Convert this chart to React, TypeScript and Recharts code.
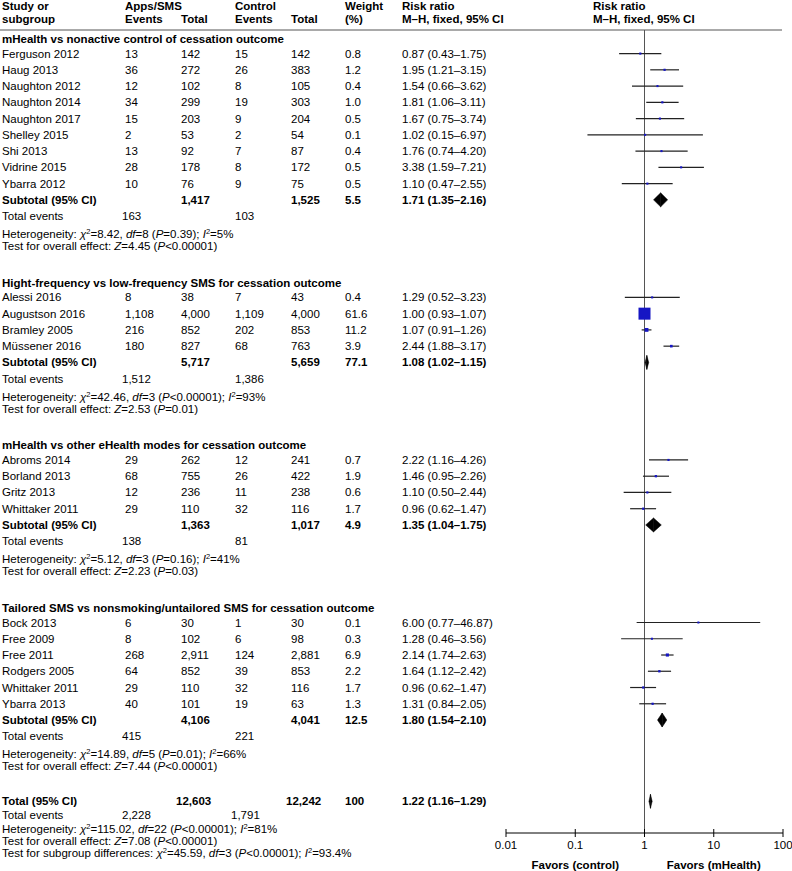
import React from "react";
import { ScatterChart, Scatter, XAxis, YAxis, ReferenceLine } from "recharts";

// ---- data ----
const groupTitles = [
  "mHealth vs nonactive control of cessation outcome",
  "Hight-frequency vs low-frequency SMS for cessation outcome",
  "mHealth vs other eHealth modes for cessation outcome",
  "Tailored SMS vs nonsmoking/untailored SMS for cessation outcome",
];
const groupSizes = [9, 4, 4, 6];

const studies = [
  "Ferguson 2012", "Haug 2013", "Naughton 2012", "Naughton 2014", "Naughton 2017",
  "Shelley 2015", "Shi 2013", "Vidrine 2015", "Ybarra 2012",
  "Alessi 2016", "Augustson 2016", "Bramley 2005", "Müssener 2016",
  "Abroms 2014", "Borland 2013", "Gritz 2013", "Whittaker 2011",
  "Bock 2013", "Free 2009", "Free 2011", "Rodgers 2005", "Whittaker 2011", "Ybarra 2013",
];
const expEvents = [13, 36, 12, 34, 15, 2, 13, 28, 10, 8, 1108, 216, 180, 29, 68, 12, 29, 6, 8, 268, 64, 29, 40];
const expTotal = [142, 272, 102, 299, 203, 53, 92, 178, 76, 38, 4000, 852, 827, 262, 755, 236, 110, 30, 102, 2911, 852, 110, 101];
const ctlEvents = [15, 26, 8, 19, 9, 2, 7, 8, 9, 7, 1109, 202, 68, 12, 26, 11, 32, 1, 6, 124, 39, 32, 19];
const ctlTotal = [142, 383, 105, 303, 204, 54, 87, 172, 75, 43, 4000, 853, 763, 241, 422, 238, 116, 30, 98, 2881, 853, 116, 63];
const weights = [0.8, 1.2, 0.4, 1.0, 0.5, 0.1, 0.4, 0.5, 0.5, 0.4, 61.6, 11.2, 3.9, 0.7, 1.9, 0.6, 1.7, 0.1, 0.3, 6.9, 2.2, 1.7, 1.3];
const rr = [0.87, 1.95, 1.54, 1.81, 1.67, 1.02, 1.76, 3.38, 1.1, 1.29, 1.0, 1.07, 2.44, 2.22, 1.46, 1.1, 0.96, 6.0, 1.28, 2.14, 1.64, 0.96, 1.31];
const rrLow = [0.43, 1.21, 0.66, 1.06, 0.75, 0.15, 0.74, 1.59, 0.47, 0.52, 0.93, 0.91, 1.88, 1.16, 0.95, 0.5, 0.62, 0.77, 0.46, 1.74, 1.12, 0.62, 0.84];
const rrHigh = [1.75, 3.15, 3.62, 3.11, 3.74, 6.97, 4.2, 7.21, 2.55, 3.23, 1.07, 1.26, 3.17, 4.26, 2.26, 2.44, 1.47, 46.87, 3.56, 2.63, 2.42, 1.47, 2.05];

const subExpTotal = [1417, 5717, 1363, 4106];
const subCtlTotal = [1525, 5659, 1017, 4041];
const subWeight = [5.5, 77.1, 4.9, 12.5];
const subRR = [1.71, 1.08, 1.35, 1.8];
const subLow = [1.35, 1.02, 1.04, 1.54];
const subHigh = [2.16, 1.15, 1.75, 2.1];
const subExpEvents = [163, 1512, 138, 415];
const subCtlEvents = [103, 1386, 81, 221];
const hetChi2 = ["8.42", "42.46", "5.12", "14.89"];
const hetDf = ["8", "3", "3", "5"];
const hetP = ["=0.39", "<0.00001", "=0.16", "=0.01"];
const hetI2 = ["5", "93", "41", "66"];
const effectZ = ["4.45", "2.53", "2.23", "7.44"];
const effectP = ["<0.00001", "=0.01", "=0.03", "<0.00001"];

const totalCounts = [12603, 12242];
const totalEvents = [2228, 1791];
const totalWeight = "100";
const totalRR = [1.22, 1.16, 1.29];
const totalHet = ["115.02", "22", "<0.00001", "81"];
const totalEffect = ["7.08", "<0.00001"];
const subgroupDiff = ["45.59", "3", "<0.00001", "93.4"];

const xTicks = [0.01, 0.1, 1, 10, 100];
const favorLabels = new Map<number, string>([
  [0.1, "Favors (control)"],
  [10, "Favors (mHealth)"],
]);

// ---- layout ----
const FONT = '"Liberation Sans", Arial, Helvetica, sans-serif';
const FS = 11.5;
const COL = { study: 2, ev: 125, tot: 181, cev: 235, ctot: 291, wt: 345, rr: 402, plot: 593, evSum: 122 };
const DIAMOND_H = 7;
const SUP_SHIFT = 4;
const maxWeight = Math.max(...weights);

type Cell = { x: number; node: React.ReactNode };
type Row = { k: number; bold?: boolean; rule?: boolean; cells: Cell[] };

const fmtInt = (n: number) => n.toLocaleString("en-US");
const fmtRR = (r: number, l: number, h: number) => `${r.toFixed(2)} (${l.toFixed(2)}–${h.toFixed(2)})`;

const It = ({ children }: { children: React.ReactNode }) => <tspan fontStyle="italic">{children}</tspan>;

// "x²=rest": the text after the superscript goes back down to the baseline
function squared(base: string, rest: string) {
  return (
    <>
      <It>{base}</It>
      <tspan dy={-SUP_SHIFT} fontSize={7.5}>2</tspan>
      <tspan dy={SUP_SHIFT}>{rest}</tspan>
    </>
  );
}

function hetText(label: string, chi2: string, df: string, p: string, i2: string) {
  return (
    <>
      {label}
      {squared("χ", `=${chi2}, `)}
      <It>df</It>
      {`=${df} (`}
      <It>P</It>
      {`${p}); `}
      {squared("I", `=${i2}%`)}
    </>
  );
}

function effectText(z: string, p: string) {
  return (
    <>
      {"Test for overall effect: "}
      <It>Z</It>
      {`=${z} (`}
      <It>P</It>
      {`${p})`}
    </>
  );
}

// ---- build rows ----
const rows: Row[] = [];
const points: { x: number; y: number; w: number }[] = [];
const cis: { lo: number; hi: number; k: number }[] = [];
const diamonds: { rr: number; lo: number; hi: number; k: number }[] = [];

rows.push({
  k: -2.92,
  bold: true,
  cells: [
    { x: COL.study, node: "Study or" },
    { x: COL.ev, node: "Apps/SMS" },
    { x: COL.cev, node: "Control" },
    { x: COL.wt, node: "Weight" },
    { x: COL.rr, node: "Risk ratio" },
    { x: COL.plot, node: "Risk ratio" },
  ],
});
rows.push({
  k: -2.12,
  bold: true,
  cells: [
    { x: COL.study, node: "subgroup" },
    { x: COL.ev, node: "Events" },
    { x: COL.tot, node: "Total" },
    { x: COL.cev, node: "Events" },
    { x: COL.ctot, node: "Total" },
    { x: COL.wt, node: "(%)" },
    { x: COL.rr, node: "M–H, fixed, 95% CI" },
    { x: COL.plot, node: "M–H, fixed, 95% CI" },
  ],
});
rows.push({ k: -1.45, rule: true, cells: [] });

let k0 = 0;
let idx = 0;
let lastSub = 0;
groupSizes.forEach((n, g) => {
  rows.push({ k: k0 - 0.9, bold: true, cells: [{ x: COL.study, node: groupTitles[g] }] });
  for (let j = 0; j < n; j++) {
    const i = idx + j;
    const k = k0 + j;
    rows.push({
      k,
      cells: [
        { x: COL.study, node: studies[i] },
        { x: COL.ev, node: fmtInt(expEvents[i]) },
        { x: COL.tot, node: fmtInt(expTotal[i]) },
        { x: COL.cev, node: fmtInt(ctlEvents[i]) },
        { x: COL.ctot, node: fmtInt(ctlTotal[i]) },
        { x: COL.wt, node: weights[i].toFixed(1) },
        { x: COL.rr, node: fmtRR(rr[i], rrLow[i], rrHigh[i]) },
      ],
    });
    points.push({ x: rr[i], y: k, w: weights[i] });
    cis.push({ lo: rrLow[i], hi: rrHigh[i], k });
  }
  const ks = k0 + n;
  rows.push({
    k: ks,
    bold: true,
    cells: [
      { x: COL.study, node: "Subtotal (95% CI)" },
      { x: COL.tot, node: fmtInt(subExpTotal[g]) },
      { x: COL.ctot, node: fmtInt(subCtlTotal[g]) },
      { x: COL.wt, node: subWeight[g].toFixed(1) },
      { x: COL.rr, node: fmtRR(subRR[g], subLow[g], subHigh[g]) },
    ],
  });
  diamonds.push({ rr: subRR[g], lo: subLow[g], hi: subHigh[g], k: ks });
  rows.push({
    k: ks + 1,
    cells: [
      { x: COL.study, node: "Total events" },
      { x: COL.evSum, node: fmtInt(subExpEvents[g]) },
      { x: COL.cev, node: fmtInt(subCtlEvents[g]) },
    ],
  });
  rows.push({ k: ks + 2.1, cells: [{ x: COL.study, node: hetText("Heterogeneity: ", hetChi2[g], hetDf[g], hetP[g], hetI2[g]) }] });
  rows.push({ k: ks + 2.85, cells: [{ x: COL.study, node: effectText(effectZ[g], effectP[g]) }] });
  lastSub = ks;
  idx += n;
  k0 = ks + 6;
});

const kTotal = lastSub + 5;
rows.push({
  k: kTotal,
  bold: true,
  cells: [
    { x: COL.study, node: "Total (95% CI)" },
    { x: 176, node: fmtInt(totalCounts[0]) },
    { x: 286, node: fmtInt(totalCounts[1]) },
    { x: COL.wt, node: totalWeight },
    { x: COL.rr, node: fmtRR(totalRR[0], totalRR[1], totalRR[2]) },
  ],
});
diamonds.push({ rr: totalRR[0], lo: totalRR[1], hi: totalRR[2], k: kTotal });
rows.push({
  k: kTotal + 0.85,
  cells: [
    { x: COL.study, node: "Total events" },
    { x: COL.evSum, node: fmtInt(totalEvents[0]) },
    { x: 231, node: fmtInt(totalEvents[1]) },
  ],
});
rows.push({ k: kTotal + 1.7, cells: [{ x: COL.study, node: hetText("Heterogeneity: ", totalHet[0], totalHet[1], totalHet[2], totalHet[3]) }] });
rows.push({ k: kTotal + 2.45, cells: [{ x: COL.study, node: effectText(totalEffect[0], totalEffect[1]) }] });
rows.push({
  k: kTotal + 3.15,
  cells: [{ x: COL.study, node: hetText("Test for subgroup differences: ", subgroupDiff[0], subgroupDiff[1], subgroupDiff[2], subgroupDiff[3]) }],
});

const rowByK = new Map<number, Row>(rows.map((r) => [r.k, r]));
const rowTicks = rows.map((r) => r.k);

// ---- renderers ----
function RowTick(props: any) {
  const { y, payload } = props;
  const row = rowByK.get(payload.value);
  if (!row) return null;
  if (row.rule) {
    return <line x1={0} x2={782} y1={y} y2={y} stroke="#555" strokeWidth={1} />;
  }
  return (
    <g>
      {row.cells.map((c, i) => (
        <text
          key={i}
          x={c.x}
          y={y}
          dy="0.35em"
          fontFamily={FONT}
          fontSize={FS}
          fontWeight={row.bold ? "bold" : "normal"}
          fill="#000"
        >
          {c.node}
        </text>
      ))}
    </g>
  );
}

function XTick(props: any) {
  const { x, y, payload } = props;
  const v = payload.value as number;
  const label = favorLabels.get(v);
  return (
    <g>
      <line x1={x} x2={x} y1={y - 4} y2={y + 4} stroke="#000" />
      <text x={x} y={y + 16} textAnchor="middle" fontFamily={FONT} fontSize={FS} fill="#000">
        {String(v)}
      </text>
      {label && (
        <text x={x} y={y + 36} textAnchor="middle" fontFamily={FONT} fontSize={FS} fontWeight="bold" fill="#000">
          {label}
        </text>
      )}
    </g>
  );
}

function Square(props: any) {
  const { cx, cy, payload } = props;
  const s = 2 + (10 * payload.w) / maxWeight;
  return <rect x={cx - s / 2} y={cy - s / 2} width={s} height={s} fill="#1616c4" />;
}

const leftHalf = (p: any) => (
  <polygon
    points={`${p.x1},${p.y1} ${p.x2},${p.y2 - DIAMOND_H} ${p.x2},${p.y2 + DIAMOND_H}`}
    fill="#000"
    stroke="#000"
    strokeWidth={0.5}
  />
);
const rightHalf = (p: any) => (
  <polygon
    points={`${p.x1},${p.y1 - DIAMOND_H} ${p.x2},${p.y2} ${p.x1},${p.y1 + DIAMOND_H}`}
    fill="#000"
    stroke="#000"
    strokeWidth={0.5}
  />
);

export default function App() {
  return (
    <div style={{ position: "absolute", left: 0, top: 0, width: 792, height: 871, background: "#fff" }}>
      <ScatterChart width={792} height={871} margin={{ top: 30, right: 9, bottom: 0, left: 505 }}>
        <XAxis
          type="number"
          dataKey="x"
          scale="log"
          domain={[0.01, 100]}
          allowDataOverflow
          ticks={xTicks}
          interval={0}
          height={38}
          axisLine={{ stroke: "#000" }}
          tickLine={false}
          tickSize={0}
          tickMargin={0}
          tick={<XTick />}
        />
        <YAxis
          type="number"
          dataKey="y"
          reversed
          domain={[-1.45, 47.95]}
          allowDataOverflow
          ticks={rowTicks}
          interval={0}
          width={1}
          axisLine={false}
          tickLine={false}
          tickSize={0}
          tickMargin={0}
          tick={<RowTick />}
        />
        <ReferenceLine x={1} stroke="#555" />
        {cis.map((c, i) => (
          <ReferenceLine
            key={`ci${i}`}
            segment={[
              { x: c.lo, y: c.k },
              { x: c.hi, y: c.k },
            ]}
            stroke="#222"
            strokeWidth={1.2}
          />
        ))}
        {diamonds.map((d, i) => (
          <ReferenceLine
            key={`dl${i}`}
            segment={[
              { x: d.lo, y: d.k },
              { x: d.rr, y: d.k },
            ]}
            shape={leftHalf}
          />
        ))}
        {diamonds.map((d, i) => (
          <ReferenceLine
            key={`dr${i}`}
            segment={[
              { x: d.rr, y: d.k },
              { x: d.hi, y: d.k },
            ]}
            shape={rightHalf}
          />
        ))}
        <Scatter data={points} shape={<Square />} isAnimationActive={false} />
      </ScatterChart>
    </div>
  );
}
